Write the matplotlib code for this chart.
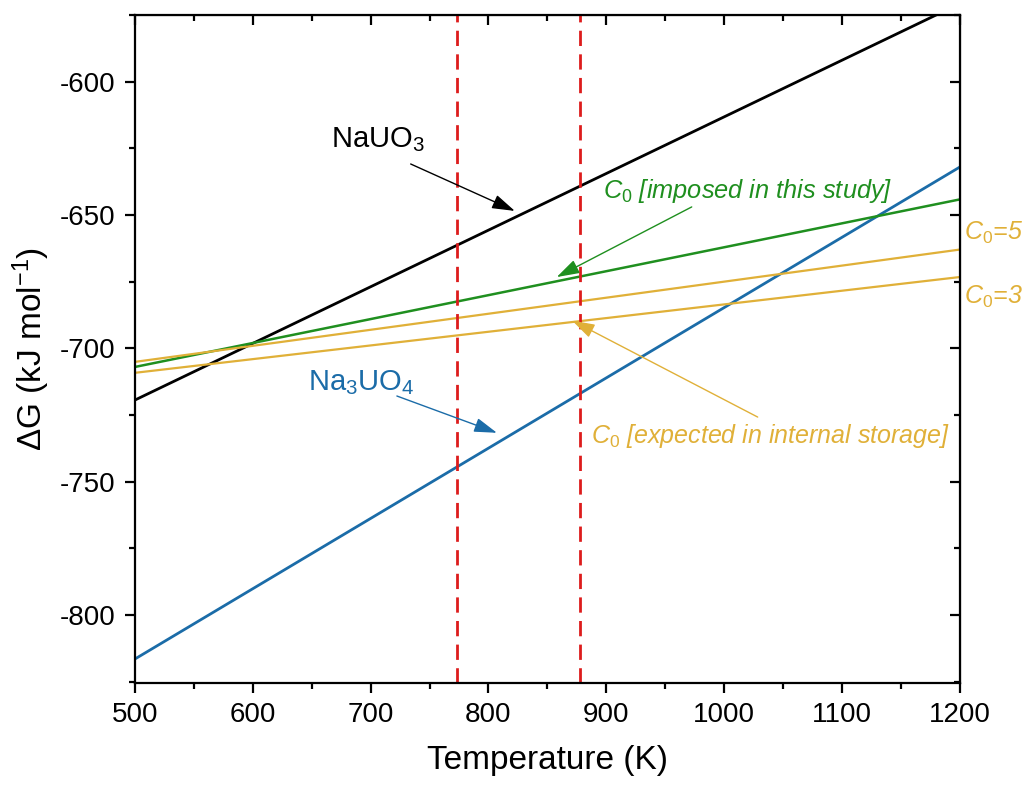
import matplotlib
matplotlib.use("Agg")
import matplotlib.pyplot as plt
from matplotlib.ticker import MultipleLocator

plt.rcParams["font.family"] = ["Liberation Sans", "DejaVu Sans"]
plt.rcParams["mathtext.fontset"] = "custom"
plt.rcParams["mathtext.rm"] = "Liberation Sans"
plt.rcParams["mathtext.it"] = "Liberation Sans:italic"
plt.rcParams["axes.unicode_minus"] = False

# Gibbs energy of formation vs temperature (linear fits, end points)
temperature = [500, 1200]
dg_nauo3 = [-719.4, -570.8]
dg_na3uo4 = [-816.5, -632.1]
dg_c0_imposed = [-707.0, -644.2]
dg_c0_5 = [-705.1, -663.0]
dg_c0_3 = [-709.2, -673.3]

# Temperatures marked by the dashed verticals
marked_temps = [773, 878]

x_ticks = [500, 600, 700, 800, 900, 1000, 1100, 1200]
y_ticks = [-800, -750, -700, -650, -600]

c_black = "#000000"
c_blue = "#1b6ca8"
c_green = "#1f8f1f"
c_gold = "#e0b038"
c_red = "#dd1c1c"

fig = plt.figure(figsize=(10.23, 7.85), dpi=100)
ax = fig.add_axes([0.132, 0.130, 0.806, 0.851])

ax.plot(temperature, dg_nauo3, color=c_black, lw=2.0)
ax.plot(temperature, dg_na3uo4, color=c_blue, lw=2.0)
ax.plot(temperature, dg_c0_imposed, color=c_green, lw=1.8)
ax.plot(temperature, dg_c0_5, color=c_gold, lw=1.6)
ax.plot(temperature, dg_c0_3, color=c_gold, lw=1.6)

for t in marked_temps:
    ax.axvline(t, color=c_red, lw=2.0, ls=(0, (5.5, 3.0)))

ax.set_xlim(500, 1200)
ax.set_ylim(-825.5, -575)
ax.set_xticks(x_ticks)
ax.set_yticks(y_ticks)
ax.xaxis.set_minor_locator(MultipleLocator(50))
ax.yaxis.set_minor_locator(MultipleLocator(25))

for s in ax.spines.values():
    s.set_linewidth(1.6)
ax.tick_params(which="major", direction="out", length=7, width=1.6,
               labelsize=20, pad=7)
ax.tick_params(which="minor", direction="out", length=4, width=1.6)

top = ax.secondary_xaxis("top")
top.set_xticks(x_ticks)
top.xaxis.set_minor_locator(MultipleLocator(50))
top.tick_params(which="major", direction="in", length=7, width=1.6, labeltop=False)
top.tick_params(which="minor", direction="in", length=4, width=1.6)
right = ax.secondary_yaxis("right")
right.set_yticks(y_ticks)
right.yaxis.set_minor_locator(MultipleLocator(25))
right.tick_params(which="major", direction="in", length=7, width=1.6, labelright=False)
right.tick_params(which="minor", direction="in", length=4, width=1.6)

ax.set_xlabel("Temperature (K)", fontsize=24, labelpad=12)
ax.set_ylabel(r"$\Delta$G (kJ mol$^{-1}$)", fontsize=24, labelpad=6)

arrow_kw = dict(arrowstyle="-|>,head_length=0.7,head_width=0.22",
                mutation_scale=20, lw=1.0, shrinkA=0, shrinkB=0)

ax.text(666, -621.9, r"NaUO$_3$", fontsize=21, color=c_black, va="center", ha="left")
ax.annotate("", xy=(822.4, -648.5), xytext=(734, -630.9),
            arrowprops=dict(color=c_black, **arrow_kw))

ax.text(647, -713, r"Na$_3$UO$_4$", fontsize=21, color=c_blue, va="center", ha="left")
ax.annotate("", xy=(807.2, -731.7), xytext=(722.3, -717.9),
            arrowprops=dict(color=c_blue, **arrow_kw))

ax.text(897, -641, r"$C_{\mathit{0}}$ [imposed in this study]", fontsize=18.3,
        color=c_green, style="italic", va="center", ha="left")
ax.annotate("", xy=(858, -673.3), xytext=(972.6, -647),
            arrowprops=dict(color=c_green, **arrow_kw))

ax.text(887, -733, r"$C_{\mathit{0}}$ [expected in internal storage]", fontsize=18.0,
        color=c_gold, style="italic", va="center", ha="left")
ax.annotate("", xy=(871, -689.6), xytext=(1028.6, -725.8),
            arrowprops=dict(color=c_gold, **arrow_kw))

ax.text(1203.5, -656.7, r"$C_{\mathit{0}}$=5", fontsize=18, color=c_gold,
        style="italic", va="center", ha="left", clip_on=False)
ax.text(1203.5, -680.7, r"$C_{\mathit{0}}$=3", fontsize=18, color=c_gold,
        style="italic", va="center", ha="left", clip_on=False)

fig.savefig("out.png", dpi=100)
